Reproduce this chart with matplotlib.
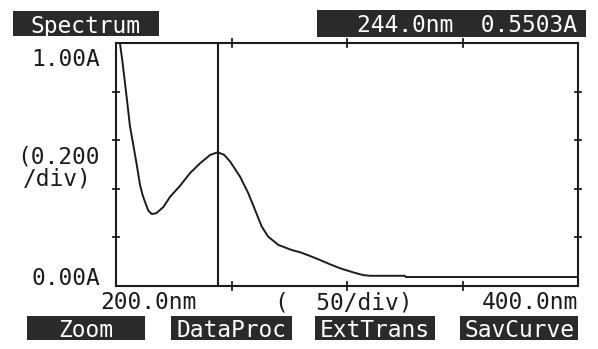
import matplotlib
matplotlib.use("Agg")
import matplotlib.pyplot as plt
from matplotlib.patches import Rectangle

# ---- data ----
wavelength_nm = [201.7, 202.7, 203.9, 205.1, 206.0, 207.5, 209.0, 210.4, 211.5, 212.6,
                 214.0, 215.5, 217.5, 220.5, 223.4, 227.7, 232.0, 236.4, 240.7, 244.0,
                 246.8, 249.4, 253.7, 257.3, 260.2, 263.1, 265.9, 270.3, 276.1, 280.0,
                 284.7, 288.3, 293.0, 297.0, 302.7, 307.0, 310.0, 325.0, 325.5, 400.0]
absorbance = [1.000, 0.930, 0.835, 0.737, 0.660, 0.580, 0.498, 0.416, 0.375, 0.345,
              0.310, 0.296, 0.300, 0.325, 0.367, 0.412, 0.464, 0.505, 0.539, 0.5503,
              0.540, 0.512, 0.450, 0.381, 0.313, 0.244, 0.203, 0.169, 0.148, 0.138,
              0.121, 0.107, 0.088, 0.073, 0.056, 0.045, 0.042, 0.042, 0.037, 0.037]
cursor_nm = 244.0
cursor_abs = 0.5503
x_ticks = [250, 300, 350]
y_ticks = [0.2, 0.4, 0.6, 0.8]
menu_buttons = ["Zoom", "DataProc", "ExtTrans", "SavCurve"]

W, H = 598, 349
fig = plt.figure(figsize=(W / 100, H / 100), dpi=100)
fig.patch.set_facecolor("white")

ink = "#1c1c1c"
box = "#2a2a2a"
font = dict(family="DejaVu Sans Mono", fontsize=16.5, color=ink)


def fx(px):
    return px / W


def fy(py):
    return 1 - py / H


ax_l, ax_r, ax_t, ax_b = 116, 578, 43, 286
ax = fig.add_axes([fx(ax_l), fy(ax_b), (ax_r - ax_l) / W, (ax_b - ax_t) / H])
ax.set_xlim(200, 400)
ax.set_ylim(0, 1.0)
for s in ax.spines.values():
    s.set_color(ink)
    s.set_linewidth(1.5)
ax.set_xticks([])
ax.set_yticks([])

ax.plot(wavelength_nm, absorbance, color=ink, lw=1.4, solid_joinstyle="round")
ax.axvline(cursor_nm, color=ink, lw=1.5)

# ticks crossing the frame
for t in x_ticks:
    for yv in (0, 1.0):
        ax.plot([t, t], [yv - 0.015, yv + 0.015], color=ink, lw=1.3, clip_on=False)
for t in y_ticks:
    for xv in (200, 400):
        ax.plot([xv - 1.3, xv + 1.3], [t, t], color=ink, lw=1.3, clip_on=False)


# header / menu boxes
def boxed(x0, y0, x1, y1, text, tx, ha="center"):
    fig.patches.append(Rectangle((fx(x0), fy(y1)), (x1 - x0) / W, (y1 - y0) / H,
                                 transform=fig.transFigure, facecolor=box,
                                 edgecolor="none"))
    fig.text(fx(tx), fy((y0 + y1) / 2), text, ha=ha, va="center_baseline",
             family="DejaVu Sans Mono", fontsize=16.5, color="white")


boxed(13, 11, 159, 36, "Spectrum", 86)
boxed(317, 10, 586, 37, "%.1fnm  %.4fA" % (cursor_nm, cursor_abs), 577, ha="right")

button_boxes = [(27, 145), (171, 292), (315, 435), (460, 578)]
for (x0, x1), lab in zip(button_boxes, menu_buttons):
    boxed(x0, 316, x1, 340, lab, (x0 + x1) / 2)

# axis labels
fig.text(fx(100), fy(57), "1.00A", ha="right", va="center_baseline", **font)
fig.text(fx(100), fy(276), "0.00A", ha="right", va="center_baseline", **font)
fig.text(fx(17), fy(154), "(0.200", ha="left", va="center_baseline", **font)
fig.text(fx(23), fy(176), "/div)", ha="left", va="center_baseline", **font)
fig.text(fx(100), fy(300), "200.0nm", ha="left", va="center_baseline", **font)
fig.text(fx(578), fy(300), "400.0nm", ha="right", va="center_baseline", **font)
fig.text(fx(275), fy(300), "(  50/div)", ha="left", va="center_baseline", **font)

fig.savefig("out.png", dpi=100, facecolor="white")
